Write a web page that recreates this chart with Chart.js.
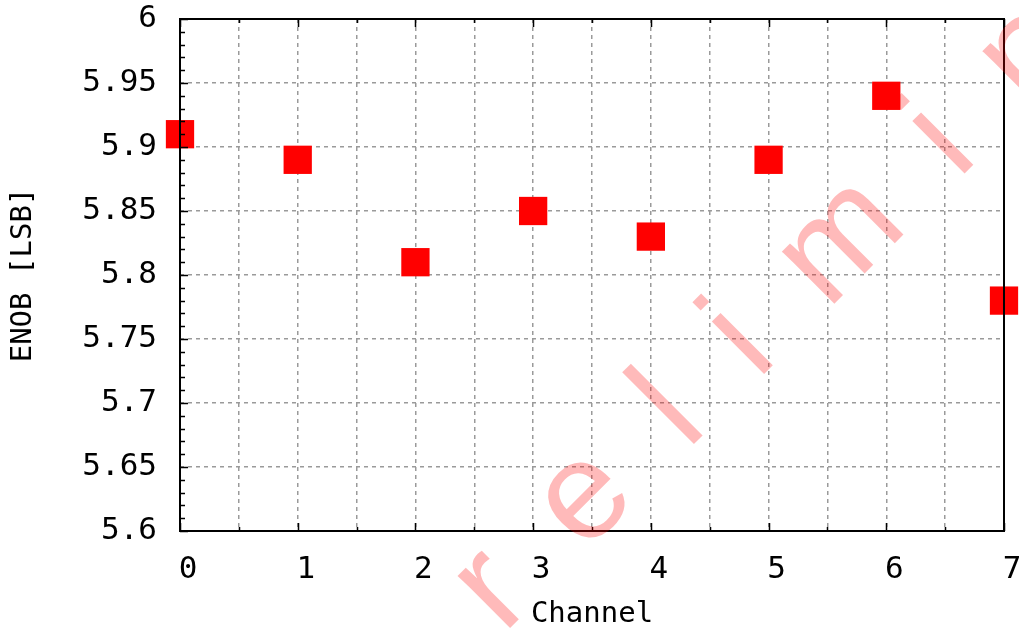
<!DOCTYPE html>
<html lang="en">
<head>
  <meta charset="UTF-8" />
  <title>ENOB per channel</title>
  <script src="https://cdn.jsdelivr.net/npm/chart.js"></script>
  <style>
    html, body { margin: 0; padding: 0; background: #fff; overflow: hidden; }
    #wrap { width: 1019px; height: 628px; position: relative; }
  </style>
</head>
<body>
  <div id="wrap"><canvas id="chart" width="1019" height="628"></canvas></div>

  <script>
    // data
    const channels = [0, 1, 2, 3, 4, 5, 6, 7];
    const enob = [5.91, 5.89, 5.81, 5.85, 5.83, 5.89, 5.94, 5.78];

    // axes
    const xTicks = [0, 0.5, 1, 1.5, 2, 2.5, 3, 3.5, 4, 4.5, 5, 5.5, 6, 6.5, 7];
    const yTicks = [5.6, 5.65, 5.7, 5.75, 5.8, 5.85, 5.9, 5.95, 6];
    const yTickLabels = ['5.6', '5.65', '5.7', '5.75', '5.8', '5.85', '5.9', '5.95', '6'];
    const xTitle = 'Channel';
    const yTitle = 'ENOB [LSB]';
    const watermark = 'preliminary';

    const mono = '"DejaVu Sans Mono", monospace';

    // gnuplot-like frame: full box plus inward ticks (minor on y every 0.01)
    const framePlugin = {
      id: 'frame',
      afterDatasetsDraw(chart) {
        const { ctx, chartArea: a, scales: { x, y } } = chart;
        ctx.save();
        ctx.strokeStyle = '#000';
        ctx.lineWidth = 1.5;
        ctx.beginPath();
        for (let k = 0; k <= 40; k++) {
          const v = 5.6 + k * 0.01;
          const py = Math.round(y.getPixelForValue(v)) + 0.5;
          const len = k % 5 === 0 ? 8 : 5;
          ctx.moveTo(a.left, py);
          ctx.lineTo(a.left + len, py);
        }
        xTicks.forEach(v => {
          const px = Math.round(x.getPixelForValue(v)) + 0.5;
          const len = Number.isInteger(v) ? 8 : 4;
          ctx.moveTo(px, a.bottom);
          ctx.lineTo(px, a.bottom - len);
          ctx.moveTo(px, a.top);
          ctx.lineTo(px, a.top + len);
        });
        ctx.stroke();
        ctx.lineWidth = 2;
        ctx.strokeRect(a.left, a.top, a.right - a.left, a.bottom - a.top);
        ctx.restore();
      },
      afterDraw(chart) {
        const ctx = chart.ctx;
        ctx.save();
        ctx.fillStyle = 'rgba(255, 0, 0, 0.27)';
        ctx.font = '140px "Liberation Sans", Arial, sans-serif';
        ctx.textBaseline = 'alphabetic';
        ctx.translate(400, 738);
        ctx.rotate(-Math.PI / 4);
        let cx = 0;
        for (const ch of watermark) {
          ctx.fillText(ch, cx, 0);
          cx += ctx.measureText(ch).width + 68;
        }
        ctx.restore();
      }
    };

    const ctx = document.getElementById('chart').getContext('2d');
    const chart = new Chart(ctx, {
      type: 'scatter',
      data: {
        datasets: [{
          data: channels.map((c, i) => ({ x: c, y: enob[i] })),
          pointStyle: 'rect',
          pointRadius: 20,
          pointHoverRadius: 20,
          backgroundColor: '#ff0000',
          borderWidth: 0,
          clip: false
        }]
      },
      options: {
        responsive: false,
        animation: false,
        devicePixelRatio: 1,
        layout: { autoPadding: false, padding: { top: 19, right: 15, bottom: 0, left: 0 } },
        plugins: { legend: { display: false }, tooltip: { enabled: false } },
        scales: {
          x: {
            type: 'linear',
            min: 0,
            max: 7,
            afterBuildTicks: s => { s.ticks = xTicks.map(v => ({ value: v })); },
            afterFit: s => { s.height = 97; s.paddingLeft = 0; s.paddingRight = 0; },
            ticks: {
              callback: v => Number.isInteger(v) ? String(v) : '',
              font: { family: mono, size: 31 },
              color: '#000',
              padding: 20,
              labelOffset: 8,
              maxRotation: 0,
              autoSkip: false
            },
            grid: { color: '#9a9a9a', lineWidth: 1.5, drawTicks: false },
            border: { display: false, dash: [4, 4] },
            title: {
              display: true,
              text: xTitle,
              color: '#000',
              font: { family: mono, size: 29, lineHeight: 0.9 },
              padding: { top: 0, bottom: 0 }
            }
          },
          y: {
            min: 5.6,
            max: 6,
            afterBuildTicks: s => { s.ticks = yTicks.map(v => ({ value: v })); },
            afterFit: s => { s.width = 180; s.paddingTop = 0; s.paddingBottom = 0; },
            ticks: {
              callback: (v, i) => yTickLabels[i],
              font: { family: mono, size: 31 },
              color: '#000',
              padding: 23
            },
            grid: { color: '#9a9a9a', lineWidth: 1.5, drawTicks: false },
            border: { display: false, dash: [4, 4] },
            title: {
              display: true,
              text: yTitle,
              color: '#000',
              font: { family: mono, size: 29 },
              padding: { top: 6, bottom: 0 }
            }
          }
        }
      },
      plugins: [framePlugin]
    });
  </script>
</body>
</html>
